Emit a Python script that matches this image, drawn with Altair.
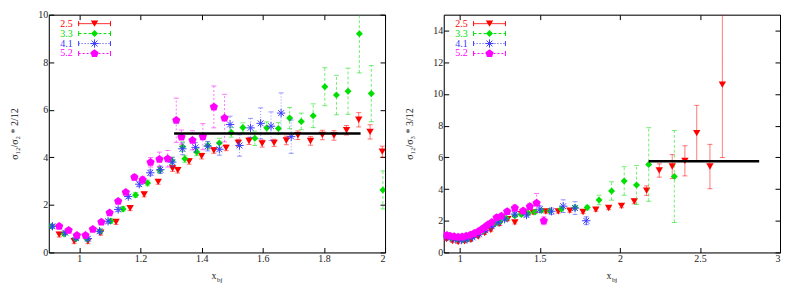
import altair as alt
import pandas as pd

# ---------------- data: left panel (sigma12/sigma2 * 2/12) ----------------
series = ["2.5", "3.3", "4.1", "5.2"]

L_red_x = [0.934, 0.983, 1.028, 1.07, 1.12, 1.166, 1.212, 1.258, 1.305, 1.322, 1.359, 1.40, 1.44, 1.48,
           1.52, 1.555, 1.598, 1.637, 1.677, 1.715, 1.756, 1.795, 1.833, 1.874, 1.914, 1.951, 1.991]
L_red_y = [0.75, 0.47, 0.47, 0.83, 1.28, 1.86, 2.44, 2.97, 3.53, 3.46, 3.83, 4.05, 4.29, 4.4,
           4.61, 4.69, 4.58, 4.61, 4.71, 4.93, 4.69, 4.94, 4.92, 5.14, 5.58, 5.07, 4.24]
L_red_e = [0.1, 0.1, 0.1, 0.1, 0.1, 0.1, 0.1, 0.1, 0.12, 0.12, 0.12, 0.12, 0.12, 0.12,
           0.15, 0.15, 0.15, 0.15, 0.18, 0.18, 0.18, 0.2, 0.2, 0.2, 0.3, 0.3, 0.23]

L_grn_x = [0.91, 0.95, 0.989, 1.025, 1.068, 1.103, 1.143, 1.184, 1.223, 1.263, 1.303, 1.338, 1.345, 1.384,
           1.42, 1.458, 1.497, 1.535, 1.574, 1.613, 1.651, 1.688, 1.726, 1.765, 1.803, 1.841, 1.879,
           1.916, 1.955, 1.993]
L_grn_y = [1.1, 0.78, 0.58, 0.57, 0.89, 1.32, 1.83, 2.42, 2.92, 3.46, 3.86, 4.45, 3.94, 4.22,
           4.5, 4.6, 5.05, 5.25, 4.8, 5.24, 5.21, 5.65, 5.51, 5.75, 6.97, 6.62, 6.78,
           9.2, 6.68, 2.63]
L_grn_e = [0.08, 0.08, 0.08, 0.08, 0.08, 0.1, 0.1, 0.1, 0.12, 0.12, 0.15, 0.2, 0.15, 0.15,
           0.15, 0.2, 0.2, 0.2, 0.3, 0.25, 0.25, 0.45, 0.35, 0.5, 0.8, 0.83, 0.97,
           1.65, 1.18, 0.8]

L_blu_x = [0.912, 0.954, 0.989, 1.028, 1.066, 1.094, 1.127, 1.16, 1.196, 1.232, 1.265, 1.304, 1.337,
           1.38, 1.42, 1.458, 1.493, 1.524, 1.56, 1.593, 1.627, 1.66, 1.693]
L_blu_y = [1.1, 0.83, 0.61, 0.58, 0.89, 1.31, 1.81, 2.35, 2.87, 3.35, 3.48, 3.8, 4.36,
           4.42, 4.47, 4.34, 5.38, 4.5, 5.24, 5.43, 5.31, 5.86, 4.87]
L_blu_e = [0.08, 0.08, 0.08, 0.08, 0.08, 0.08, 0.08, 0.08, 0.1, 0.12, 0.15, 0.2, 0.25,
           0.2, 0.2, 0.25, 0.35, 0.45, 0.4, 0.65, 0.6, 0.85, 0.7]

L_mag_x = [0.934, 0.965, 0.992, 1.02, 1.044, 1.072, 1.099, 1.127, 1.152, 1.18, 1.207, 1.233, 1.262,
           1.289, 1.317, 1.334, 1.37, 1.404, 1.44, 1.475]
L_mag_y = [1.1, 0.93, 0.72, 0.72, 0.97, 1.28, 1.67, 2.15, 2.53, 3.16, 3.05, 3.79, 3.92,
           3.94, 5.56, 4.85, 4.72, 4.87, 6.12, 5.65]
L_mag_e = [0.08, 0.08, 0.08, 0.08, 0.08, 0.08, 0.08, 0.08, 0.08, 0.12, 0.15, 0.2, 0.3,
           0.35, 0.93, 0.3, 0.4, 0.55, 0.88, 1.0]

L_fit_x = [1.31, 1.92]
L_fit_y = [5.0]

# ---------------- data: right panel (sigma12/sigma3 * 3/12) ----------------
R_red_x = [0.917, 0.955, 0.99, 1.03, 1.07, 1.115, 1.156, 1.194, 1.25, 1.30, 1.344, 1.385, 1.458,
           1.5375, 1.615, 1.6875, 1.77, 1.85, 1.93, 2.01, 2.09, 2.167, 2.246, 2.327, 2.406,
           2.48, 2.5625, 2.64]
R_red_y = [0.84, 0.72, 0.66, 0.7, 0.8, 1.0, 1.22, 1.42, 1.8, 2.1, 1.9, 2.42, 2.53,
           2.58, 2.58, 2.64, 2.55, 2.7, 2.8, 2.94, 3.22, 3.9, 5.17, 5.42, 5.78,
           7.53, 5.42, 10.59]
R_red_e = [0.08, 0.08, 0.08, 0.08, 0.08, 0.08, 0.08, 0.08, 0.1, 0.1, 0.1, 0.1, 0.1,
           0.1, 0.1, 0.1, 0.1, 0.1, 0.1, 0.12, 0.15, 0.3, 0.42, 0.75, 0.95,
           1.75, 1.4, 4.6]

R_grn_x = [0.906, 0.945, 0.98, 1.015, 1.05, 1.09, 1.146, 1.1875, 1.22, 1.25, 1.29, 1.344, 1.385,
           1.427, 1.47, 1.51, 1.5625, 1.635, 1.72, 1.796, 1.87, 1.948, 2.027, 2.104, 2.18, 2.34]
R_grn_y = [1.06, 0.92, 0.84, 0.78, 0.84, 1.05, 1.37, 1.69, 1.8, 1.94, 2.15, 2.32, 2.4,
           2.49, 2.55, 2.64, 2.61, 2.74, 2.83, 2.83, 3.31, 3.88, 4.51, 4.26, 5.55, 4.79]
R_grn_e = [0.08, 0.08, 0.08, 0.08, 0.08, 0.08, 0.08, 0.08, 0.08, 0.08, 0.08, 0.1, 0.1,
           0.1, 0.1, 0.1, 0.1, 0.12, 0.15, 0.15, 0.3, 0.58, 0.9, 1.23, 2.32, 2.9]

R_blu_x = [0.906, 0.94, 0.975, 1.01, 1.045, 1.08, 1.12, 1.16, 1.2, 1.24, 1.28, 1.344, 1.417,
           1.5, 1.573, 1.646, 1.72, 1.79]
R_blu_y = [1.0, 0.92, 0.82, 0.78, 0.82, 0.95, 1.15, 1.4, 1.65, 1.9, 2.1, 2.42, 2.36,
           2.73, 2.6, 2.92, 2.8, 2.0]
R_blu_e = [0.08, 0.08, 0.08, 0.08, 0.08, 0.08, 0.08, 0.08, 0.08, 0.1, 0.1, 0.12, 0.12,
           0.2, 0.2, 0.4, 0.4, 0.25]

R_mag_x = [0.896, 0.92, 0.94, 0.965, 0.99, 1.015, 1.04, 1.065, 1.09, 1.115, 1.135, 1.155, 1.175,
           1.2, 1.23, 1.26, 1.296, 1.344, 1.396, 1.4375, 1.48, 1.525]
R_mag_y = [1.1, 1.08, 1.04, 1.0, 0.97, 0.98, 1.03, 1.1, 1.2, 1.32, 1.45, 1.58, 1.75,
           1.9, 2.2, 2.3, 2.58, 2.8, 2.62, 2.9, 3.12, 2.0]
R_mag_e = [0.06, 0.06, 0.06, 0.06, 0.06, 0.06, 0.06, 0.06, 0.06, 0.08, 0.08, 0.08, 0.1,
           0.1, 0.12, 0.12, 0.15, 0.2, 0.15, 0.2, 0.6, 0.25]

R_fit_x = [2.18, 2.87]
R_fit_y = [5.76]

# ---------------- styles ----------------
FONT = "Liberation Serif, DejaVu Serif, serif"
COLORS = {"2.5": "#ff0000", "3.3": "#00e000", "4.1": "#3c3cff", "5.2": "#ff00ff"}
DASH = {"2.5": [1, 0], "3.3": [3, 2], "4.1": [1, 2], "5.2": [2, 2]}
ASTER = "M-1,0L1,0M0,-1L0,1M-0.7,-0.7L0.7,0.7M-0.7,0.7L0.7,-0.7"
PENTA = "M0,-1L0.951,-0.309L0.588,0.809L-0.588,0.809L-0.951,-0.309Z"
SHAPE = {"2.5": "triangle-down", "3.3": "diamond", "4.1": ASTER, "5.2": PENTA}
FILLED = {"2.5": True, "3.3": True, "4.1": False, "5.2": True}
SIZE = {"2.5": 55, "3.3": 50, "4.1": 70, "5.2": 75}

W, H = 338, 239
dummy = pd.DataFrame({"a": [1.0]})


def frame(df):
    return pd.DataFrame({"x": df[0], "y": df[1],
                         "lo": [y - e for y, e in zip(df[1], df[2])],
                         "hi": [y + e for y, e in zip(df[1], df[2])]})


def panel(data, xdom, xticks, ydom, yticks, ytitle, fit):
    xs = alt.Scale(domain=xdom, nice=False, zero=False)
    ys = alt.Scale(domain=ydom, nice=False, zero=False)
    tin = alt.ExprRef(expr="-5")
    ax_common = dict(tickColor="black", domainColor="black", grid=False, labelFont=FONT,
                     labelFontSize=10, labelColor="#222", titleFont=FONT, titleFontSize=10,
                     titleFontWeight="normal", titleColor="#222", tickSize=tin, labelPadding=6)
    base = alt.Chart(dummy).mark_point(opacity=0, clip=True).encode(
        x=alt.X("a:Q", scale=xs, axis=alt.Axis(values=xticks, format="~r", title=None, **ax_common)),
        y=alt.Y("a:Q", scale=ys, axis=alt.Axis(values=yticks, format="~r", title=ytitle,
                                               titlePadding=18, **ax_common)),
    )
    mirror = alt.Chart(dummy).mark_point(opacity=0, clip=True).encode(
        x=alt.X("a:Q", scale=xs, axis=alt.Axis(values=xticks, orient="top", labels=False,
                                               title=None, **ax_common)),
        y=alt.Y("a:Q", scale=ys, axis=alt.Axis(values=yticks, orient="right", labels=False,
                                               title=None, **ax_common)),
    )
    layers = [base, mirror]
    for s, arr in zip(series, data):
        df = frame(arr)
        c = COLORS[s]
        X = alt.X("x:Q", scale=xs, axis=None)
        bar = alt.Chart(df).mark_rule(color=c, strokeDash=DASH[s], strokeWidth=1, opacity=0.55,
                                      clip=True).encode(x=X, y=alt.Y("lo:Q", scale=ys, axis=None), y2="hi:Q")
        cap_lo = alt.Chart(df).mark_rule(color=c, strokeWidth=1, opacity=0.55, clip=True,
                                         xOffset=-2.5, x2Offset=2.5).encode(
            x=X, x2="x:Q", y=alt.Y("lo:Q", scale=ys, axis=None))
        cap_hi = alt.Chart(df).mark_rule(color=c, strokeWidth=1, opacity=0.55, clip=True,
                                         xOffset=-2.5, x2Offset=2.5).encode(
            x=X, x2="x:Q", y=alt.Y("hi:Q", scale=ys, axis=None))
        pts = alt.Chart(df).mark_point(shape=SHAPE[s], filled=FILLED[s], size=SIZE[s], color=c,
                                       opacity=1, strokeWidth=1, clip=True).encode(
            x=X, y=alt.Y("y:Q", scale=ys, axis=None))
        layers += [bar, cap_lo, cap_hi, pts]
    fitdf = pd.DataFrame({"x0": [fit[0][0]], "x1": [fit[0][1]], "y": fit[1]})
    layers.append(alt.Chart(fitdf).mark_rule(color="black", strokeWidth=2.5).encode(
        x=alt.X("x0:Q", scale=xs, axis=None), x2="x1:Q", y=alt.Y("y:Q", scale=ys, axis=None)))
    # legend (top-left, gnuplot style)
    for i, s in enumerate(series):
        c = COLORS[s]
        yy = 9 + 10 * i
        layers.append(alt.Chart(dummy).mark_text(text=s, align="right", baseline="middle", color=c,
                                                 font=FONT, fontSize=10).encode(
            x=alt.value(24), y=alt.value(yy)))
        layers.append(alt.Chart(dummy).mark_rule(color=c, strokeDash=DASH[s], strokeWidth=1).encode(
            x=alt.value(30), x2=alt.value(62), y=alt.value(yy)))
        for cx in (30, 62):
            layers.append(alt.Chart(dummy).mark_rule(color=c, strokeWidth=1).encode(
                x=alt.value(cx), y=alt.value(yy - 2.5), y2=alt.value(yy + 2.5)))
        layers.append(alt.Chart(dummy).mark_point(shape=SHAPE[s], filled=FILLED[s], size=SIZE[s],
                                                  color=c, opacity=1, strokeWidth=1).encode(
            x=alt.value(46), y=alt.value(yy)))
    # x-axis title x_bj
    layers.append(alt.Chart(dummy).mark_text(text="x", font=FONT, fontSize=10, align="center",
                                             baseline="alphabetic", color="#222").encode(
        x=alt.value(W / 2 - 3), y=alt.value(H + 27)))
    layers.append(alt.Chart(dummy).mark_text(text="bj", font=FONT, fontSize=7, align="left",
                                             baseline="alphabetic", color="#222").encode(
        x=alt.value(W / 2), y=alt.value(H + 30)))
    return alt.layer(*layers).resolve_axis(x="independent", y="independent").properties(
        width=W, height=H)


left = panel([(L_red_x, L_red_y, L_red_e), (L_grn_x, L_grn_y, L_grn_e),
              (L_blu_x, L_blu_y, L_blu_e), (L_mag_x, L_mag_y, L_mag_e)],
             [0.9, 2.0], [1, 1.2, 1.4, 1.6, 1.8, 2], [0, 10], [0, 2, 4, 6, 8, 10],
             "σ₁₂/σ₂ * 2/12", (L_fit_x, L_fit_y))
right = panel([(R_red_x, R_red_y, R_red_e), (R_grn_x, R_grn_y, R_grn_e),
               (R_blu_x, R_blu_y, R_blu_e), (R_mag_x, R_mag_y, R_mag_e)],
              [0.9, 3.0], [1, 1.5, 2, 2.5, 3], [0, 15], [0, 2, 4, 6, 8, 10, 12, 14],
              "σ₁₂/σ₃ * 3/12", (R_fit_x, R_fit_y))

chart = alt.hconcat(left, right, spacing=18).properties(
    padding={"left": 1, "top": 0, "right": 0, "bottom": 0}
).configure_view(stroke="black", strokeWidth=1).configure(background="white")

chart.save("out.html", embed_options={"renderer": "svg", "actions": False})
